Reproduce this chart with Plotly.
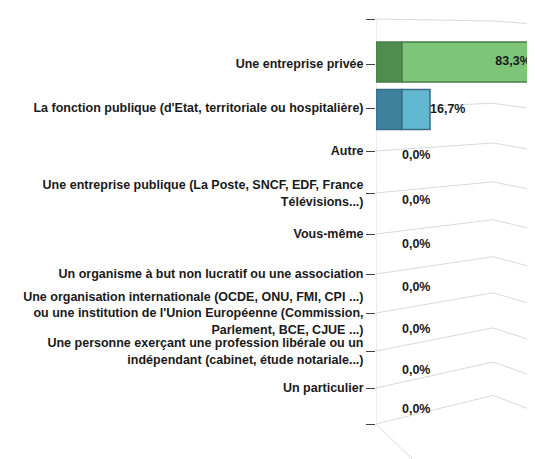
import plotly.graph_objects as go

# categories, top to bottom
categories = [
    "Une entreprise privée",
    "La fonction publique (d'Etat, territoriale ou hospitalière)",
    "Autre",
    "Une entreprise publique (La Poste, SNCF, EDF, France<br>Télévisions...)",
    "Vous-même",
    "Un organisme à but non lucratif ou une association",
    "Une organisation internationale (OCDE, ONU, FMI, CPI ...)<br>ou une institution de l'Union Européenne (Commission,<br>Parlement, BCE, CJUE ...)",
    "Une personne exerçant une profession libérale ou un<br>indépendant (cabinet, étude notariale...)",
    "Un particulier",
]
values = [83.3, 16.7, 0.0, 0.0, 0.0, 0.0, 0.0, 0.0, 0.0]
value_labels = ["83,3%", "16,7%", "0,0%", "0,0%", "0,0%", "0,0%", "0,0%", "0,0%", "0,0%"]

front_colors = ["#7dc679", "#62b8d1"] + ["#7dc679"] * 7
side_colors = ["#4e8d4e", "#3e819d"] + ["#4e8d4e"] * 7
edge_colors = ["#4a7d4a", "#3a6c86"] + ["#4a7d4a"] * 7

# the page puts the figure 8px in from the window corner
W, H, OFF = 535, 459, 8

# fake 3D geometry (style constants); the y axis runs in window pixels
PX_PER_PCT = 1.677
AXIS_PX = 376       # window pixel of the category axis
DEPTH = 15.5        # dark left face of each bar, in % units
XMAX = (W - AXIS_PX) / PX_PER_PCT
WALL_X = 69.8       # where the back wall folds into the side wall
BAR_H = 40
FONT = dict(family="Liberation Sans, Arial", size=12.5, color="#1a1a1a", weight="bold")
GRID = dict(color="#d9d9d9", width=1)


def front(i):
    # rows on the front plane, spacing shrinks with depth
    return 62 + 48 * i - 0.5625 * i * i


def back(i):
    # rows on the back wall, where the ticks and gridlines sit
    return 64 + 44.5 * i - 0.5 * i * i


rows = [front(i) for i in range(len(categories))]
tickvals = [back(k) for k in range(-1, len(categories) + 1)]
ticktext = [""] + categories + [""]

fig = go.Figure()

# perspective gridlines, kept under the bars
top = tickvals[0]
bottom = tickvals[-1]
for t in tickvals:
    rise = -2 + (t - top) * 0.0756
    drop = 3 + (t - top) * 0.032
    fig.add_shape(type="line", x0=0, y0=t, x1=WALL_X, y1=t - rise,
                  line=GRID, layer="below")
    fig.add_shape(type="line", x0=WALL_X, y0=t - rise, x1=XMAX, y1=t - rise + drop,
                  line=GRID, layer="below")
# axis wall edge and floor edge
fig.add_shape(type="line", x0=0, y0=top, x1=0, y1=bottom, line=GRID, layer="below")
fig.add_shape(type="line", x0=0, y0=bottom, x1=30, y1=bottom + 30 * PX_PER_PCT * 0.97,
              line=GRID, layer="below")

side = [DEPTH if v > 0 else 0 for v in values]
line_w = [1.5 if v > 0 else 0 for v in values]
fig.add_trace(go.Bar(y=rows, x=side, orientation="h", width=BAR_H,
                     marker=dict(color=side_colors,
                                 line=dict(color=edge_colors, width=line_w)),
                     showlegend=False, hoverinfo="skip"))
fig.add_trace(go.Bar(y=rows, x=values, base=DEPTH, orientation="h", width=BAR_H,
                     marker=dict(color=front_colors,
                                 line=dict(color=edge_colors, width=line_w)),
                     showlegend=False))

# value labels: at the bar end, or tucked inside when the bar runs off the edge
label_x, label_pos = [], []
for v in values:
    end = DEPTH + v
    if end > XMAX:
        label_x.append(XMAX - 2.5)
        label_pos.append("middle left")
    else:
        label_x.append(end)
        label_pos.append("middle right")
fig.add_trace(go.Scatter(x=label_x, y=rows, mode="text", text=value_labels,
                         textposition=label_pos, cliponaxis=False, textfont=FONT,
                         hoverinfo="skip", showlegend=False))

fig.update_layout(
    width=W - OFF, height=H - OFF,
    margin=dict(l=AXIS_PX - OFF, r=0, t=0, b=0),
    paper_bgcolor="white", plot_bgcolor="white",
    barmode="overlay",
    xaxis=dict(range=[0, XMAX], visible=False),
    yaxis=dict(range=[H, OFF],
               tickvals=tickvals, ticktext=ticktext,
               ticks="outside", ticklen=9, tickcolor="#404040", tickwidth=1,
               showgrid=False, zeroline=False, showline=False,
               tickfont=FONT),
)

fig.write_html("out.html")
